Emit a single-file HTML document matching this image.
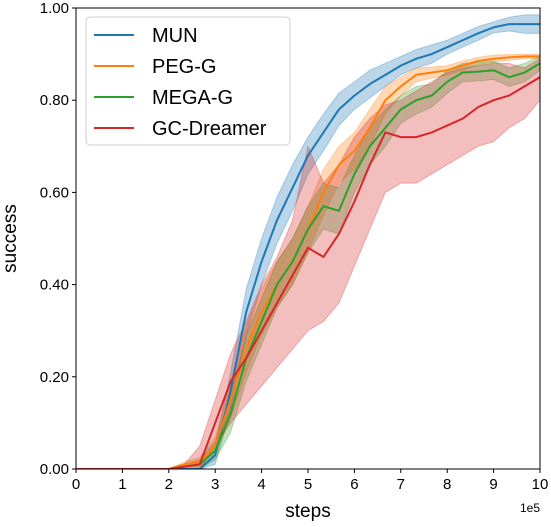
<!DOCTYPE html>
<html><head><meta charset="utf-8"><style>
body{margin:0;background:#fff}
svg{font-family:"Liberation Sans",sans-serif}
</style></head><body>
<svg id="chart" width="551" height="522"></svg>
<script>
const xs=[0,0.333,0.667,1,1.333,1.667,2,2.333,2.667,3,3.333,3.667,4,4.333,4.667,5,5.333,5.667,6,6.333,6.667,7,7.333,7.667,8,8.333,8.667,9,9.333,9.667,10];
const munMean=[0,0,0,0,0,0,0,0,0,0.03,0.17,0.34,0.45,0.54,0.61,0.68,0.73,0.78,0.81,0.835,0.855,0.875,0.89,0.9,0.915,0.93,0.945,0.958,0.965,0.965,0.965];
const munBand=[0,0,0,0,0,0,0,0,0,0.02,0.04,0.05,0.05,0.05,0.05,0.04,0.04,0.035,0.03,0.03,0.025,0.02,0.02,0.02,0.015,0.015,0.015,0.012,0.015,0.02,0.02];
const pegMean=[0,0,0,0,0,0,0,0.01,0.015,0.05,0.15,0.26,0.34,0.4,0.45,0.52,0.6,0.66,0.69,0.74,0.8,0.83,0.855,0.86,0.865,0.875,0.885,0.89,0.893,0.895,0.895];
const pegBand=[0,0,0,0,0,0,0,0.005,0.01,0.02,0.04,0.05,0.05,0.05,0.05,0.05,0.05,0.04,0.04,0.04,0.03,0.02,0.015,0.012,0.01,0.01,0.008,0.008,0.006,0.005,0.005];
const megaMean=[0,0,0,0,0,0,0,0.005,0.01,0.04,0.12,0.24,0.32,0.4,0.45,0.52,0.57,0.56,0.64,0.7,0.74,0.78,0.8,0.81,0.84,0.86,0.862,0.865,0.85,0.86,0.88];
const megaBand=[0,0,0,0,0,0,0,0.005,0.01,0.02,0.04,0.05,0.05,0.05,0.05,0.05,0.05,0.05,0.04,0.04,0.04,0.03,0.03,0.025,0.025,0.02,0.02,0.02,0.02,0.02,0.015];
const gcMean=[0,0,0,0,0,0,0,0.005,0.01,0.1,0.19,0.24,0.3,0.36,0.42,0.48,0.46,0.51,0.58,0.66,0.73,0.72,0.72,0.73,0.745,0.76,0.785,0.8,0.81,0.83,0.85];
const gcLo=[0,0,0,0,0,0,0,0,0,0.05,0.1,0.14,0.18,0.22,0.26,0.3,0.32,0.36,0.44,0.52,0.6,0.62,0.62,0.64,0.66,0.68,0.7,0.71,0.74,0.76,0.8];
const gcHi=[0,0,0,0,0,0,0,0.01,0.05,0.15,0.25,0.32,0.4,0.46,0.54,0.7,0.62,0.66,0.72,0.76,0.79,0.8,0.82,0.84,0.86,0.87,0.875,0.88,0.88,0.87,0.89];
const xTicks=[0,1,2,3,4,5,6,7,8,9,10];
const yTicks=[0,0.2,0.4,0.6,0.8,1.0];
const yTickLabels=["0.00","0.20","0.40","0.60","0.80","1.00"];
const legendNames=["MUN","PEG-G","MEGA-G","GC-Dreamer"];
const colors=["#1f77b4","#ff7f0e","#2ca02c","#d62728"];

const L=76,R=540,T=8,B=469;
const sx=v=>L+(v-0)/(10-0)*(R-L);
const sy=v=>B-(v-0)/(1-0)*(B-T);
const NS="http://www.w3.org/2000/svg";
const svg=document.getElementById('chart');
function mk(tag,attrs,parent){const e=document.createElementNS(NS,tag);for(const k in attrs)e.setAttribute(k,attrs[k]);(parent||svg).appendChild(e);return e;}

const clip=mk('clipPath',{id:'pc'});mk('rect',{x:L,y:T,width:R-L,height:B-T},clip);
const g=mk('g',{'clip-path':'url(#pc)'});



const series=[
 {name:'mun',mean:munMean,lo:munMean.map((v,i)=>v-munBand[i]),hi:munMean.map((v,i)=>v+munBand[i])},
 {name:'peg-g',mean:pegMean,lo:pegMean.map((v,i)=>v-pegBand[i]),hi:pegMean.map((v,i)=>v+pegBand[i])},
 {name:'mega-g',mean:megaMean,lo:megaMean.map((v,i)=>v-megaBand[i]),hi:megaMean.map((v,i)=>v+megaBand[i])},
 {name:'gc-dreamer',mean:gcMean,lo:gcLo,hi:gcHi}
];
series.forEach((s,k)=>{
  let d='M'+xs.map((x,i)=>sx(x)+','+sy(Math.max(0,s.hi[i]))).join('L');
  for(let i=xs.length-1;i>=0;i--)d+='L'+sx(xs[i])+','+sy(Math.max(0,s.lo[i]));
  const b=mk('path',{d:d+'Z',fill:colors[k],'fill-opacity':0.3,stroke:colors[k],'stroke-opacity':0.3,'stroke-width':1},g);
  
  
});
series.forEach((s,k)=>{
  const p=mk('polyline',{points:xs.map((x,i)=>sx(x)+','+sy(s.mean[i])).join(' '),fill:'none',stroke:colors[k],'stroke-width':2},g);
  
  
});

const frame=mk('rect',{x:L,y:T,width:R-L,height:B-T,fill:'none',stroke:'#000','stroke-width':1});



xTicks.forEach(t=>{
  const x=sx(t);
  mk('line',{x1:x,x2:x,y1:B,y2:B+4,stroke:'#000'});
  const tx=mk('text',{x:x,y:B+20,'text-anchor':'middle','font-size':15});
  tx.textContent=t;
  
  
});
yTicks.forEach((t,i)=>{
  const y=sy(t);
  mk('line',{x1:L-4,x2:L,y1:y,y2:y,stroke:'#000'});
  const tx=mk('text',{x:L-7,y:y+5,'text-anchor':'end','font-size':15});
  tx.textContent=yTickLabels[i];
  
  
});
const xt=mk('text',{x:(L+R)/2,y:517,'text-anchor':'middle','font-size':19});
xt.textContent='steps';


const yt=mk('text',{x:16,y:(T+B)/2,'text-anchor':'middle','font-size':19,transform:'rotate(-90 16 '+((T+B)/2)+')'});
yt.textContent='success';


const ex=mk('text',{x:540,y:512,'text-anchor':'end','font-size':12});
ex.textContent='1e5';



const lg=mk('g',{});


mk('rect',{x:86,y:17,width:204,height:128,rx:4,fill:'#fff','fill-opacity':0.8,stroke:'#ccc'},lg);
legendNames.forEach((n,i)=>{
  const y=35+i*31;
  const e=mk('g',{},lg);
  
  
  mk('line',{x1:94,x2:134,y1:y,y2:y,stroke:colors[i],'stroke-width':2},e);
  const t=mk('text',{x:152,y:y+7,'font-size':20},e);
  t.textContent=n;
});
</script>
</body></html>
